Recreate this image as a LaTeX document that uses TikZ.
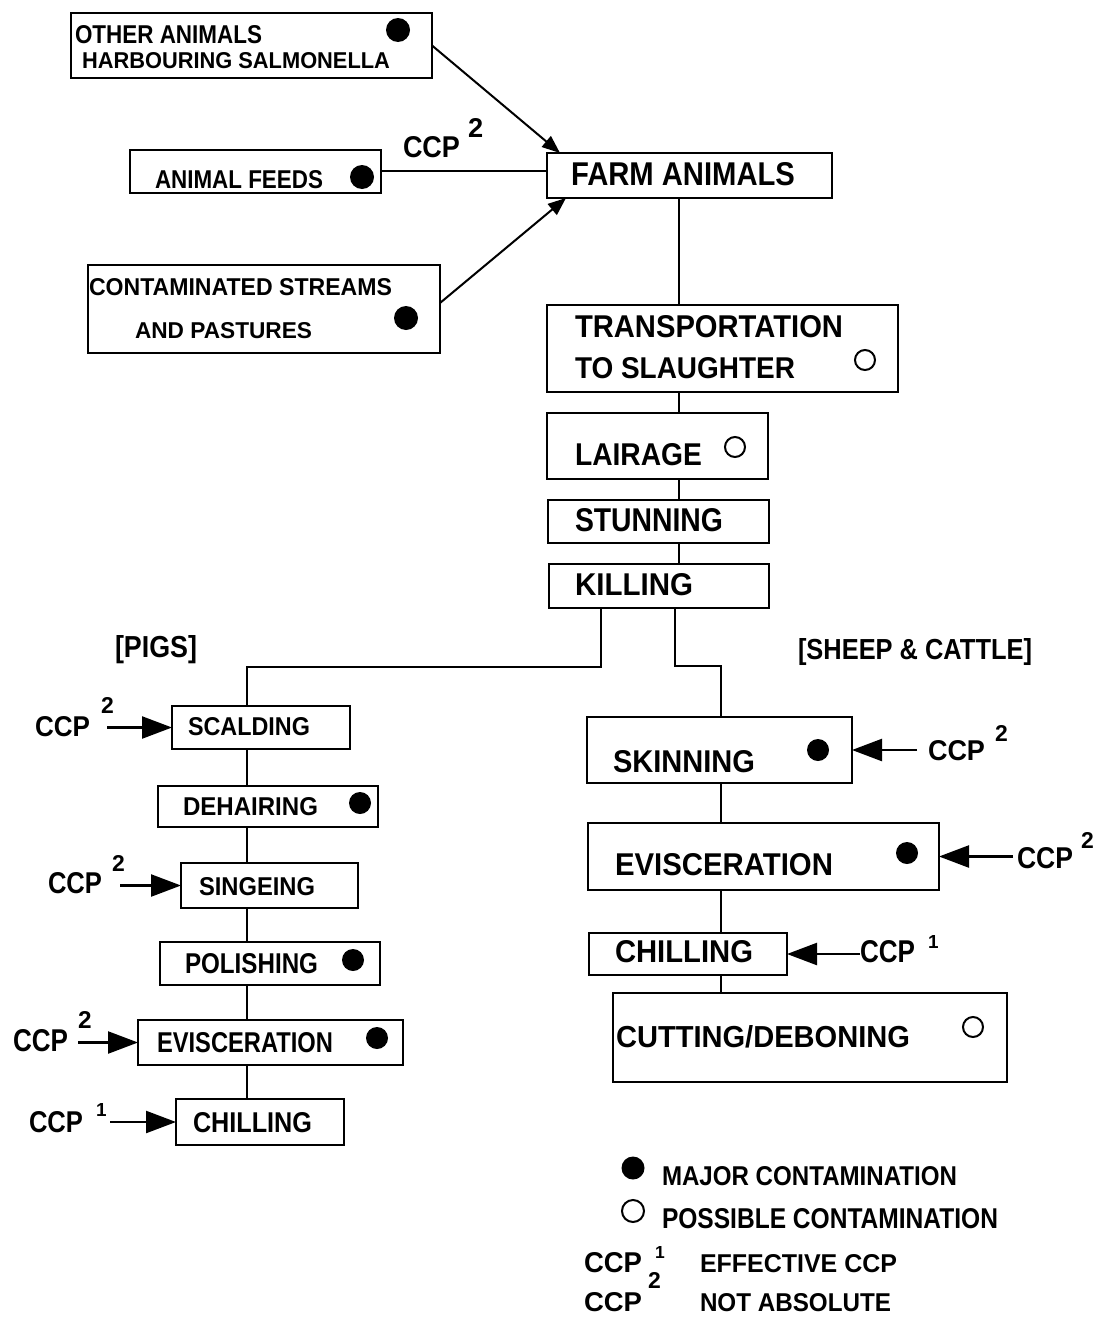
\documentclass[tikz,border=0pt]{standalone}
\usepackage{fontspec}
\setmainfont{Liberation Sans}
\usetikzlibrary{arrows.meta,positioning,fit,calc}
\newcommand{\fittext}[3]{\resizebox{#1pt}{#2pt}{\textbf{#3}}}
\newcommand{\supdigit}[2]{\resizebox{!}{#1pt}{\textbf{#2}}}
\begin{document}
\begin{tikzpicture}[x=1pt,y=-1pt,
  box/.style={draw=black, line width=2.2pt, inner sep=0pt, outer sep=0pt},
  tx/.style={anchor=base west, inner sep=0pt, outer sep=0pt},
  conn/.style={draw=black, line width=2pt},
  toparrow/.style={draw=black, line width=2pt, -{Triangle[length=18pt,width=14pt]}},
  ccparrow/.style={draw=black, line width=2.4pt, -{Triangle[length=30pt,width=22pt]}},
  majordot/.style={circle, fill=black, inner sep=0pt, minimum size=24pt},
  possdot/.style={circle, draw=black, line width=2pt, inner sep=0pt, minimum size=20pt}]
\fill[white] (0,0) rectangle (1102,1317);
\useasboundingbox (0,0) rectangle (1102,1317);

% ---- boxes ----
\node[box, fit={(71,13) (432,78)}] (other) {};
\node[box, fit={(130,150) (381,193)}] (feeds) {};
\node[box, fit={(88,265) (440,353)}] (cont) {};
\node[box, fit={(547,153) (832,198)}] (farm) {};
\node[box, fit={(547,305) (898,392)}] (trans) {};
\node[box, fit={(547,413) (768,479)}] (lair) {};
\node[box, fit={(548,500) (769,543)}] (stun) {};
\node[box, fit={(549,564) (769,608)}] (kill) {};
\node[box, fit={(172,706) (350,749)}] (scald) {};
\node[box, fit={(158,786) (378,827)}] (dehair) {};
\node[box, fit={(181,863) (358,908)}] (singe) {};
\node[box, fit={(160,942) (380,985)}] (polish) {};
\node[box, fit={(138,1020) (403,1065)}] (evisP) {};
\node[box, fit={(176,1099) (344,1145)}] (chillP) {};
\node[box, fit={(587,717) (852,783)}] (skin) {};
\node[box, fit={(588,823) (939,890)}] (evisS) {};
\node[box, fit={(589,933) (787,975)}] (chillS) {};
\node[box, fit={(613,993) (1007,1082)}] (cut) {};

% ---- texts ----
\node[tx] (otherT1) at (75,43) {\fittext{187}{18}{OTHER ANIMALS}};
\node[tx] (otherT2) at (82,68) {\fittext{308}{16}{HARBOURING SALMONELLA}};
\node[tx] (feedsT) at (155,188) {\fittext{168}{18}{ANIMAL FEEDS}};
\node[tx] (contT1) at (89,295) {\fittext{303}{17}{CONTAMINATED STREAMS}};
\node[tx] (contT2) at (135,338) {\fittext{177}{16}{AND PASTURES}};
\node[tx] (feedsCCP) at (403,157) {\fittext{57}{21}{CCP}};
\node[tx] (feedsSup) at (468,137) {\supdigit{19}{2}};
\node[tx] (farmT) at (571,185) {\fittext{224}{23}{FARM ANIMALS}};
\node[tx] (transT1) at (575,337) {\fittext{268}{22}{TRANSPORTATION}};
\node[tx] (transT2) at (575,378) {\fittext{220}{21}{TO SLAUGHTER}};
\node[tx] (lairT) at (575,465) {\fittext{127}{22}{LAIRAGE}};
\node[tx] (stunT) at (575,531) {\fittext{148}{23}{STUNNING}};
\node[tx] (killT) at (575,595) {\fittext{118}{22}{KILLING}};
\node[tx] (pigsT) at (115,657) {\fittext{82}{22}{[PIGS]}};
\node[tx] (sheepT) at (798,659) {\fittext{234}{21}{[SHEEP \& CATTLE]}};

\node[tx] (scaldT) at (188,735) {\fittext{122}{18}{SCALDING}};
\node[tx] (scaldCCP) at (35,736) {\fittext{55}{20}{CCP}};
\node[tx] (scaldSup) at (101,713) {\supdigit{16}{2}};
\node[tx] (dehairT) at (183,815) {\fittext{135}{18}{DEHAIRING}};
\node[tx] (singeT) at (199,895) {\fittext{116}{18}{SINGEING}};
\node[tx] (singeCCP) at (48,893) {\fittext{54}{21}{CCP}};
\node[tx] (singeSup) at (112,871) {\supdigit{16}{2}};
\node[tx] (polishT) at (185,973) {\fittext{133}{20}{POLISHING}};
\node[tx] (evisPT) at (157,1052) {\fittext{176}{20}{EVISCERATION}};
\node[tx] (evisPCCP) at (13,1051) {\fittext{55}{22}{CCP}};
\node[tx] (evisPSup) at (78,1028) {\supdigit{17}{2}};
\node[tx] (chillPT) at (193,1132) {\fittext{119}{20}{CHILLING}};
\node[tx] (chillPCCP) at (29,1132) {\fittext{54}{21}{CCP}};
\node[tx] (chillPSup) at (96,1116) {\supdigit{13}{1}};

\node[tx] (skinT) at (613,772) {\fittext{142}{22}{SKINNING}};
\node[tx] (skinCCP) at (928,760) {\fittext{57}{20}{CCP}};
\node[tx] (skinSup) at (995,741) {\supdigit{16}{2}};
\node[tx] (evisST) at (615,875) {\fittext{218}{22}{EVISCERATION}};
\node[tx] (evisSCCP) at (1017,868) {\fittext{56}{21}{CCP}};
\node[tx] (evisSSup) at (1081,848) {\supdigit{16}{2}};
\node[tx] (chillST) at (615,962) {\fittext{138}{22}{CHILLING}};
\node[tx] (chillSCCP) at (860,962) {\fittext{55}{22}{CCP}};
\node[tx] (chillSSup) at (928,948) {\supdigit{13}{1}};
\node[tx] (cutT) at (616,1047) {\fittext{294}{22}{CUTTING/DEBONING}};

% ---- legend ----
\node[majordot, minimum size=23pt] (legMaj) at (633,1168) {};
\node[tx] (legMajT) at (662,1185) {\fittext{295}{19}{MAJOR CONTAMINATION}};
\node[possdot, minimum size=22pt] (legPos) at (633,1211) {};
\node[tx] (legPosT) at (662,1228) {\fittext{336}{20}{POSSIBLE CONTAMINATION}};
\node[tx] (legC1) at (584,1272) {\fittext{58}{20}{CCP}};
\node[tx] (legC1s) at (655,1258) {\supdigit{12}{1}};
\node[tx] (legC1T) at (700,1272) {\fittext{197}{18}{EFFECTIVE CCP}};
\node[tx] (legC2) at (584,1311) {\fittext{58}{19}{CCP}};
\node[tx] (legC2s) at (648,1288) {\supdigit{16}{2}};
\node[tx] (legC2T) at (700,1311) {\fittext{191}{18}{NOT ABSOLUTE}};

% ---- contamination marks ----
\node[majordot] (dOther) at (398,30) {};
\node[majordot] (dFeeds) at (362,177) {};
\node[majordot] (dCont) at (406,318) {};
\node[majordot, minimum size=22pt] (dDehair) at (360,803) {};
\node[majordot, minimum size=22pt] (dPolish) at (353,960) {};
\node[majordot, minimum size=22pt] (dEvisP) at (377,1038) {};
\node[majordot, minimum size=22pt] (dSkin) at (818,750) {};
\node[majordot, minimum size=22pt] (dEvisS) at (907,853) {};
\node[possdot] (oTrans) at (865,360) {};
\node[possdot] (oLair) at (735,447) {};
\node[possdot] (oCut) at (973,1027) {};

% ---- connectors ----
\coordinate (farmTL) at ($(farm.north west)+(13,0)$);
\coordinate (farmBL) at ($(farm.south west)+(19,0)$);
\coordinate (contE) at (440,303);
\coordinate (feedsE) at (381,171);
\draw[toparrow] (other.east) -- (farmTL);
\draw[toparrow] (contE) -- (farmBL);
\draw[conn] (feedsE) -- (feedsE -| farm.west);

\coordinate (sx) at (679,0);
\draw[conn] (farm.south -| sx) -- (trans.north -| sx);
\draw[conn] (trans.south -| sx) -- (lair.north -| sx);
\draw[conn] (lair.south -| sx) -- (stun.north -| sx);
\draw[conn] (stun.south -| sx) -- (kill.north -| sx);

\coordinate (kl) at (601,667);
\coordinate (kr) at (675,666);
\coordinate (px) at (247,0);
\coordinate (shx) at (721,0);
\draw[conn] (kill.south -| kl) -- (kl) -- (kl -| px) -- (scald.north -| px);
\draw[conn] (kill.south -| kr) -- (kr) -- (kr -| shx) -- (skin.north -| shx);

\draw[conn] (scald.south -| px) -- (dehair.north -| px);
\draw[conn] (dehair.south -| px) -- (singe.north -| px);
\draw[conn] (singe.south -| px) -- (polish.north -| px);
\draw[conn] (polish.south -| px) -- (evisP.north -| px);
\draw[conn] (evisP.south -| px) -- (chillP.north -| px);

\draw[conn] (skin.south -| shx) -- (evisS.north -| shx);
\draw[conn] (evisS.south -| shx) -- (chillS.north -| shx);
\draw[conn] (chillS.south -| shx) -- (cut.north -| shx);

% ---- CCP arrows ----
\coordinate (aScald) at (107,0);
\coordinate (aSinge) at (120,0);
\coordinate (aEvisP) at (78,0);
\coordinate (aChillP) at (110,0);
\coordinate (aSkin) at (917,0);
\coordinate (aEvisS) at (1013,0);
\coordinate (aChillS) at (860,0);
\draw[ccparrow] (scald.west -| aScald) -- (scald.west);
\draw[ccparrow] (singe.west -| aSinge) -- (singe.west);
\draw[ccparrow] (evisP.west -| aEvisP) -- (evisP.west);
\draw[ccparrow] (chillP.west -| aChillP) -- (chillP.west);
\draw[ccparrow] (skin.east -| aSkin) -- (skin.east);
\draw[ccparrow] (evisS.east -| aEvisS) -- (evisS.east);
\draw[ccparrow] (chillS.east -| aChillS) -- (chillS.east);
\end{tikzpicture}
\end{document}
